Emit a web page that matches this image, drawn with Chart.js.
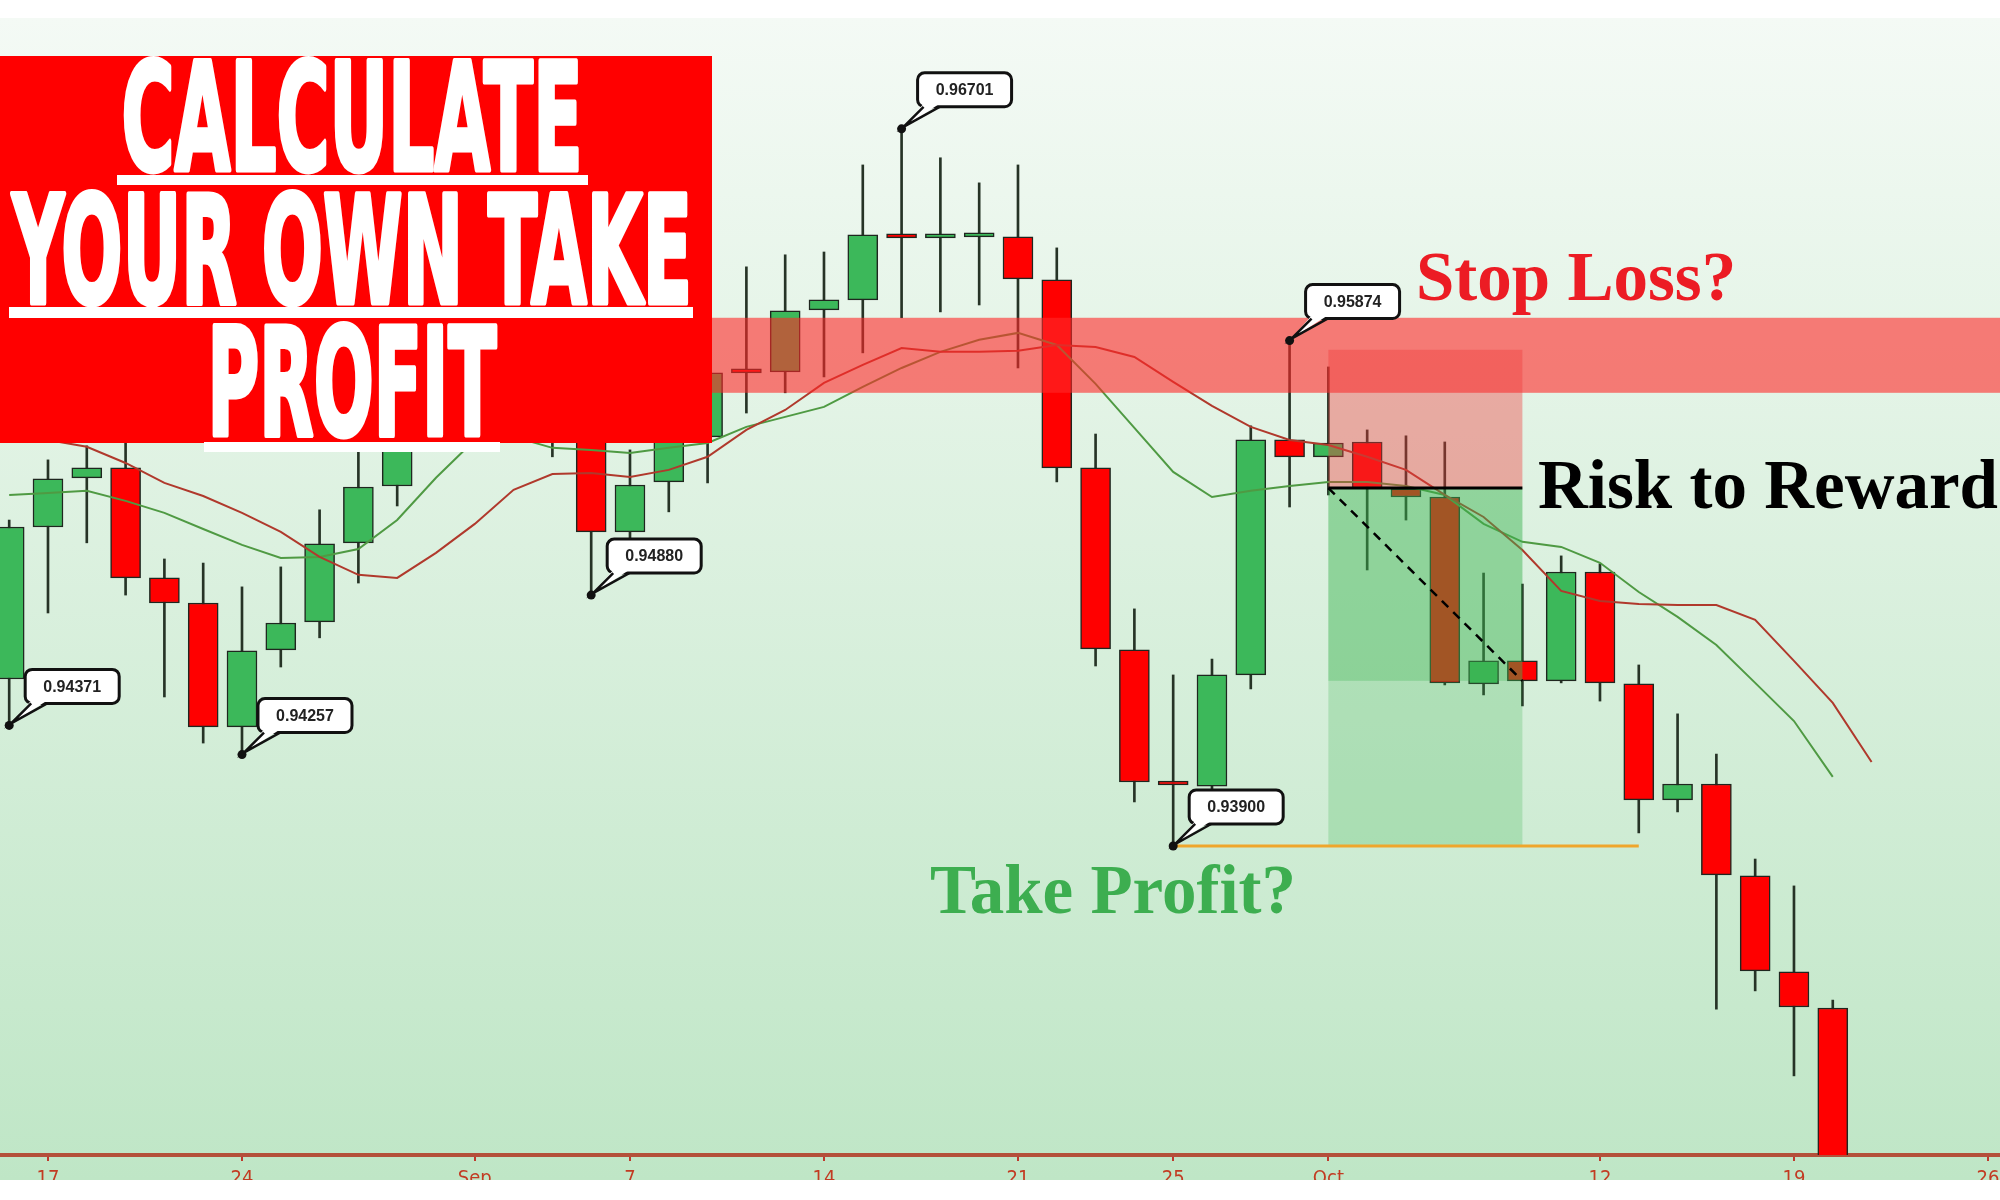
<!DOCTYPE html>
<html>
<head>
<meta charset="utf-8">
<title>Calculate your own take profit</title>
<script src="https://cdn.jsdelivr.net/npm/chart.js@4/dist/chart.umd.min.js"></script>
<style>
  html, body { margin: 0; padding: 0; background: #fff; }
  #wrap { width: 2000px; height: 1200px; }
</style>
</head>
<body>
<div id="wrap"><canvas id="chart" width="2000" height="1200"></canvas></div>
<script>
// trading days (MM-DD, 2020), one slot per candle
const days = [
  '08-14', '08-17', '08-18', '08-19', '08-20', '08-21', '08-24', '08-25', '08-26', '08-27', '08-28',
  '08-31', '09-01', '09-02', '09-03', '09-04', '09-07', '09-08', '09-09', '09-10', '09-11',
  '09-14', '09-15', '09-16', '09-17', '09-18', '09-21', '09-22', '09-23', '09-24', '09-25',
  '09-28', '09-29', '09-30', '10-01', '10-02', '10-05', '10-06', '10-07', '10-08', '10-09',
  '10-12', '10-13', '10-14', '10-15', '10-16', '10-19', '10-20', '10-21', '10-22', '10-23', '10-26'
];

const open = [
  0.94552, 0.95146, 0.95338, 0.95377, 0.94947, 0.94849, 0.94365, 0.94666, 0.94775, 0.95084, 0.95306,
  0.95525, 0.95662, 0.95838, 0.95642, 0.95545, 0.95127, 0.95322, 0.95498, 0.95756, 0.95752,
  0.95994, 0.96033, 0.96283, 0.96275, 0.96279, 0.96279, 0.96111, 0.95377, 0.94666, 0.94150,
  0.94134, 0.94568, 0.95486, 0.95420, 0.95478, 0.95295, 0.95263, 0.94533, 0.94623, 0.94545,
  0.94970, 0.94533, 0.94080, 0.94142, 0.93783, 0.93408, 0.93267
];
const high = [
  0.95173, 0.95408, 0.95463, 0.95509, 0.95021, 0.95005, 0.94912, 0.94990, 0.95213, 0.95459, 0.95525,
  0.95759, 0.95916, 0.95896, 0.95720, 0.95603, 0.95447, 0.95545, 0.95818, 0.96162, 0.96209,
  0.96220, 0.96560, 0.96701, 0.96588, 0.96490, 0.96560, 0.96236, 0.95509, 0.94826, 0.94568,
  0.94630, 0.95541, 0.95874, 0.95771, 0.95525, 0.95502, 0.95478, 0.94966, 0.94923, 0.95033,
  0.95002, 0.94607, 0.94416, 0.94259, 0.93849, 0.93744, 0.93298
];
const low = [
  0.94371, 0.94810, 0.95084, 0.94880, 0.94482, 0.94302, 0.94257, 0.94599, 0.94713, 0.94927, 0.95228,
  0.95486, 0.95564, 0.95506, 0.95420, 0.94880, 0.95068, 0.95205, 0.95318, 0.95591, 0.95670,
  0.95732, 0.95826, 0.95963, 0.95986, 0.96013, 0.95767, 0.95322, 0.94603, 0.94072, 0.93900,
  0.94119, 0.94513, 0.95224, 0.95271, 0.94978, 0.95173, 0.94529, 0.94490, 0.94447, 0.94537,
  0.94466, 0.93951, 0.94033, 0.93263, 0.93334, 0.93002, 0.92550
];
const close = [
  0.95146, 0.95334, 0.95377, 0.94947, 0.94849, 0.94365, 0.94662, 0.94771, 0.95080, 0.95302, 0.95451,
  0.95662, 0.95838, 0.95642, 0.95525, 0.95127, 0.95310, 0.95486, 0.95748, 0.95748, 0.95990,
  0.96033, 0.96287, 0.96275, 0.96275, 0.96279, 0.96115, 0.95377, 0.94670, 0.94150, 0.94138,
  0.94568, 0.95486, 0.95420, 0.95474, 0.95298, 0.95263, 0.94537, 0.94623, 0.94545, 0.94970,
  0.94537, 0.94080, 0.94142, 0.93787, 0.93412, 0.93271, 0.92595
];

// moving averages
const maRed = [
  0.95494, 0.95486, 0.95459, 0.95396, 0.95318, 0.95267, 0.95201, 0.95127, 0.95029, 0.94959, 0.94947,
  0.95045, 0.95158, 0.95291, 0.95353, 0.95357, 0.95341, 0.95369, 0.95420, 0.95525, 0.95603,
  0.95709, 0.95779, 0.95845, 0.95830, 0.95830, 0.95834, 0.95857, 0.95849, 0.95810, 0.95713,
  0.95619, 0.95537, 0.95486, 0.95466, 0.95420, 0.95369, 0.95271, 0.95185, 0.95056, 0.94896,
  0.94857, 0.94845, 0.94841, 0.94841, 0.94783, 0.94623, 0.94459, 0.94228
];
const maGreen = [
  0.95271, 0.95279, 0.95287, 0.95248, 0.95201, 0.95138, 0.95076, 0.95025, 0.95029, 0.95060, 0.95173,
  0.95338, 0.95486, 0.95498, 0.95455, 0.95447, 0.95435, 0.95455, 0.95474, 0.95537, 0.95576,
  0.95615, 0.95693, 0.95767, 0.95830, 0.95877, 0.95904, 0.95857, 0.95705, 0.95533, 0.95361,
  0.95263, 0.95287, 0.95306, 0.95322, 0.95322, 0.95306, 0.95271, 0.95158, 0.95088, 0.95068,
  0.95006, 0.94892, 0.94795, 0.94685, 0.94537, 0.94388, 0.94170
];

const tickDays = ['08-17', '08-24', '09-01', '09-07', '09-14', '09-21', '09-25', '10-01', '10-12', '10-19', '10-26'];
const tickText = ['17', '24', 'Sep', '7', '14', '21', '25', 'Oct', '12', '19', '26'];

// price callouts
const callDays   = ['08-14', '08-24', '09-04', '09-16', '09-25', '09-30'];
const callPrices = [0.94371, 0.94257, 0.94880, 0.96701, 0.93900, 0.95874];

// resistance zone and the short position
const zoneTop = 0.95963, zoneBottom = 0.95670;
const tradeFrom = '10-01', tradeTo = '10-08';
const stopPrice = 0.95838, entryPrice = 0.95298, targetPrice = 0.93900, lastPrice = 0.94545;
const lowLineFrom = '09-25', lowLineTo = '10-13', lowLinePrice = 0.93900;

const GREEN = '#3cb85a';
const RED   = '#ff0000';
const K = d => days.indexOf(d);

function roundRect(ctx, x, y, w, h, r) {
  ctx.beginPath();
  ctx.moveTo(x + r, y);
  ctx.arcTo(x + w, y, x + w, y + h, r);
  ctx.arcTo(x + w, y + h, x, y + h, r);
  ctx.arcTo(x, y + h, x, y, r);
  ctx.arcTo(x, y, x + w, y, r);
  ctx.closePath();
}

const overlay = {
  id: 'overlay',
  beforeDraw(chart) {
    const { ctx, width, height } = chart;
    ctx.save();
    ctx.fillStyle = '#fff';
    ctx.fillRect(0, 0, width, height);
    const g = ctx.createLinearGradient(0, 18, 0, 1180);
    g.addColorStop(0, '#f4faf5');
    g.addColorStop(1, '#bfe6c6');
    ctx.fillStyle = g;
    ctx.fillRect(0, 18, width, 1162);
    ctx.restore();
  },
  afterDatasetsDraw(chart) {
    const { ctx, chartArea } = chart;
    const X = v => chart.scales.x.getPixelForValue(v);
    const Y = v => chart.scales.y.getPixelForValue(v);
    ctx.save();
    // stop-loss zone
    ctx.fillStyle = 'rgba(255, 40, 40, 0.6)';
    ctx.fillRect(chartArea.left, Y(zoneTop), chartArea.width, Y(zoneBottom) - Y(zoneTop));
    // position tool
    const x0 = X(K(tradeFrom)), x1 = X(K(tradeTo));
    ctx.fillStyle = 'rgba(240, 60, 60, 0.4)';
    ctx.fillRect(x0, Y(stopPrice), x1 - x0, Y(entryPrice) - Y(stopPrice));
    ctx.fillStyle = 'rgba(60, 180, 80, 0.25)';
    ctx.fillRect(x0, Y(entryPrice), x1 - x0, Y(targetPrice) - Y(entryPrice));
    ctx.fillStyle = 'rgba(60, 180, 80, 0.3)';
    ctx.fillRect(x0, Y(entryPrice), x1 - x0, Y(lastPrice) - Y(entryPrice));
    ctx.restore();
  },
  afterDraw(chart) {
    const { ctx, width, height } = chart;
    const X = v => chart.scales.x.getPixelForValue(v);
    const Y = v => chart.scales.y.getPixelForValue(v);
    ctx.save();

    const x0 = X(K(tradeFrom)), x1 = X(K(tradeTo));
    // entry line
    ctx.strokeStyle = '#000';
    ctx.lineWidth = 3;
    ctx.beginPath();
    ctx.moveTo(x0, Y(entryPrice));
    ctx.lineTo(x1, Y(entryPrice));
    ctx.stroke();
    // dashed path to last price
    ctx.lineWidth = 2.5;
    ctx.setLineDash([9, 7]);
    ctx.beginPath();
    ctx.moveTo(x0, Y(entryPrice));
    ctx.lineTo(x1, Y(lastPrice));
    ctx.stroke();
    ctx.setLineDash([]);
    // swing low line
    ctx.strokeStyle = '#efa62c';
    ctx.lineWidth = 3;
    ctx.beginPath();
    ctx.moveTo(X(K(lowLineFrom)), Y(lowLinePrice));
    ctx.lineTo(X(K(lowLineTo)), Y(lowLinePrice));
    ctx.stroke();

    // headline texts
    ctx.font = 'bold 69px "Liberation Serif", "Times New Roman", serif';
    ctx.textAlign = 'left';
    ctx.textBaseline = 'alphabetic';
    ctx.fillStyle = '#ec1c24';
    ctx.fillText('Stop Loss?', 1416, 300);
    ctx.fillStyle = '#000';
    ctx.fillText('Risk to Reward', 1538, 508);
    ctx.fillStyle = '#3dae50';
    ctx.fillText('Take Profit?', 930, 913);

    // callouts
    callDays.forEach((d, i) => {
      const px = X(K(d)), py = Y(callPrices[i]);
      const bw = 94, bh = 34, bx = px + 16, bb = py - 22, by = bb - bh;
      ctx.fillStyle = '#fff';
      ctx.strokeStyle = '#111';
      ctx.lineWidth = 3;
      roundRect(ctx, bx, by, bw, bh, 7);
      ctx.fill();
      ctx.stroke();
      ctx.beginPath();
      ctx.moveTo(bx + 6, bb - 3);
      ctx.lineTo(px + 2, py - 2);
      ctx.lineTo(bx + 22, bb - 3);
      ctx.closePath();
      ctx.fill();
      ctx.lineWidth = 2.5;
      ctx.beginPath();
      ctx.moveTo(bx + 6, bb);
      ctx.lineTo(px + 2, py - 2);
      ctx.lineTo(bx + 22, bb);
      ctx.stroke();
      ctx.fillStyle = '#111';
      ctx.beginPath();
      ctx.arc(px, py, 4.5, 0, Math.PI * 2);
      ctx.fill();
      ctx.fillStyle = '#222';
      ctx.font = 'bold 16px "Liberation Sans", Arial, sans-serif';
      ctx.textAlign = 'center';
      ctx.textBaseline = 'middle';
      ctx.fillText(callPrices[i].toFixed(5), bx + bw / 2, by + bh / 2 + 1);
    });

    // title banner
    ctx.fillStyle = '#ff0000';
    ctx.fillRect(0, 56, 712, 387);
    ctx.fillStyle = '#fff';
    ctx.strokeStyle = '#fff';
    ctx.lineWidth = 5;
    ctx.lineJoin = 'round';
    ctx.font = 'bold 150px "Liberation Sans Narrow", "DejaVu Sans Condensed", sans-serif';
    ctx.textAlign = 'center';
    ctx.textBaseline = 'alphabetic';
    [['CALCULATE', 170, 461], ['YOUR OWN TAKE', 303, 680], ['PROFIT', 435, 289]].forEach(([t, y, w]) => {
      ctx.strokeText(t, 352, y, w);
      ctx.fillText(t, 352, y, w);
    });
    ctx.fillRect(117, 175, 471, 10);
    ctx.fillRect(9, 307, 684, 11);
    ctx.fillRect(204, 442, 296, 10);

    // cropped frame
    ctx.fillStyle = '#fff';
    ctx.fillRect(0, 1180, width, height - 1180);
    ctx.fillRect(0, 0, width, 18);
    ctx.restore();
  }
};

const ohlcPoints = (a, b) => open.map((_, k) => ({ x: k, y: [a[k], b[k]] }));
const linePoints = arr => arr.map((v, k) => ({ x: k, y: v }));

new Chart(document.getElementById('chart'), {
  type: 'bar',
  data: {
    datasets: [
      {
        type: 'line', order: 0, data: linePoints(maRed),
        borderColor: '#b0392c', borderWidth: 2, pointRadius: 0, tension: 0
      },
      {
        type: 'line', order: 1, data: linePoints(maGreen),
        borderColor: '#4f9a43', borderWidth: 2, pointRadius: 0, tension: 0
      },
      {
        order: 2, data: ohlcPoints(open, close), grouped: false, clip: 0,
        barThickness: 30, minBarLength: 4, borderSkipped: false, borderWidth: 1.5,
        borderColor: '#1f261f',
        backgroundColor: c => close[c.dataIndex] >= open[c.dataIndex] ? GREEN : RED
      },
      {
        order: 3, data: ohlcPoints(low, high), grouped: false, clip: 0,
        barThickness: 2, borderWidth: 0, backgroundColor: '#263326'
      }
    ]
  },
  options: {
    responsive: false,
    animation: false,
    devicePixelRatio: 1,
    layout: { padding: { top: 19, left: 0, right: 0, bottom: 0 } },
    plugins: { legend: { display: false }, tooltip: { enabled: false } },
    scales: {
      x: {
        type: 'linear', min: -0.237, max: 51.31, offset: false, z: 1,
        afterBuildTicks: s => { s.ticks = tickDays.map(d => ({ value: K(d) })); },
        afterFit: s => { s.height = 45; s.paddingLeft = 0; s.paddingRight = 0; },
        ticks: {
          autoSkip: false, maxRotation: 0, padding: 6, color: '#c23b22',
          font: { family: '"Liberation Sans Narrow", "DejaVu Sans Condensed", sans-serif', size: 20 },
          callback: (v, i) => tickText[i]
        },
        grid: {
          display: true, offset: false, drawOnChartArea: false, drawTicks: true,
          tickLength: 6, color: '#c0392b', lineWidth: 2
        },
        border: { display: true, color: '#b4503a', width: 4 }
      },
      y: { display: false, min: 0.92693, max: 0.97130 }
    }
  },
  plugins: [overlay]
});
</script>
</body>
</html>
